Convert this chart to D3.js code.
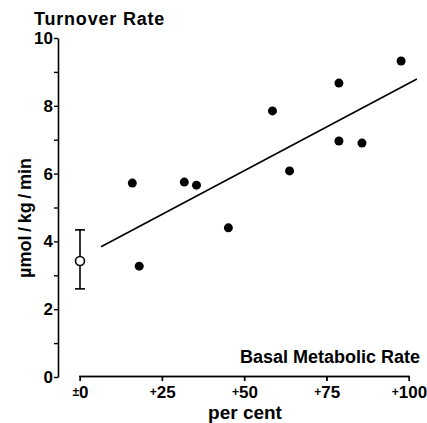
<!DOCTYPE html>
<html>
<head>
<meta charset="utf-8">
<script src="https://cdn.jsdelivr.net/npm/d3@7"></script>
<style>
  body { margin: 0; background: #fff; }
  text { font-family: "Liberation Sans", Arial, sans-serif; font-weight: bold; fill: #000; }
</style>
</head>
<body>
<svg id="chart"></svg>
<script>
// basal metabolic rate (per cent above normal) vs turnover rate
var bmr      = [15.9, 18.0, 31.7, 35.4, 45.1, 58.5, 63.7, 78.7, 78.7, 85.7, 97.6];
var turnover = [5.72, 3.27, 5.75, 5.66, 4.40, 7.85, 6.08, 8.67, 6.96, 6.90, 9.32];

// control group: mean and range
var controlX = [0];
var controlMean = [3.42];
var controlLow = [2.60];
var controlHigh = [4.34];

// regression line end points
var fitX = [6.4, 102.4];
var fitY = [3.84, 8.79];

var xTicks = [0, 25, 50, 75, 100];
var xTickSigns = ["\u00b1", "+", "+", "+", "+"];
var xTickLabels = ["0", "25", "50", "75", "100"];
var yTicks = [0, 1, 2, 3, 4, 5, 6, 7, 8, 9, 10];

var svg = d3.select("#chart")
    .attr("width", 427)
    .attr("height", 423);

var x = d3.scaleLinear().domain([0, 100]).range([80, 409]);
var y = d3.scaleLinear().domain([0, 10]).range([377, 38]);

// y axis
var yAxis = svg.append("g")
    .attr("transform", "translate(58,0)")
    .call(d3.axisLeft(y)
        .tickValues(yTicks)
        .tickSize(4)
        .tickSizeOuter(0)
        .tickFormat(function(d) { return d % 2 === 0 ? d : ""; }));
yAxis.select(".domain").attr("stroke", "#000").attr("stroke-width", 1.6);
yAxis.selectAll(".tick line").attr("stroke", "#000").attr("stroke-width", 1.4);
yAxis.selectAll(".tick text")
    .attr("x", -5)
    .style("font-size", "17px")
    .style("font-family", "\"Liberation Sans\", Arial, sans-serif")
    .style("font-weight", "bold");

// regression line
var fitLine = d3.line()
    .x(function(d) { return x(d[0]); })
    .y(function(d) { return y(d[1]); });

svg.append("path")
    .datum(d3.zip(fitX, fitY))
    .attr("fill", "none")
    .attr("stroke", "#000")
    .attr("stroke-width", 1.6)
    .attr("d", fitLine);

// patients
svg.selectAll(".pt")
    .data(d3.zip(bmr, turnover))
    .enter().append("circle")
    .attr("class", "pt")
    .attr("cx", function(d) { return x(d[0]); })
    .attr("cy", function(d) { return y(d[1]); })
    .attr("r", 4.5)
    .attr("fill", "#000");

// controls with range bar
var ctrl = d3.range(controlX.length).map(function(i) {
    return {cx: controlX[i], m: controlMean[i], lo: controlLow[i], hi: controlHigh[i]};
});

var cg = svg.selectAll(".ctrl")
    .data(ctrl)
    .enter().append("g")
    .attr("class", "ctrl")
    .attr("stroke", "#000")
    .attr("stroke-width", 1.6);

cg.append("line")
    .attr("x1", function(d) { return x(d.cx); })
    .attr("x2", function(d) { return x(d.cx); })
    .attr("y1", function(d) { return y(d.lo); })
    .attr("y2", function(d) { return y(d.hi); });

cg.selectAll(".cap")
    .data(function(d) { return [[d.cx, d.lo], [d.cx, d.hi]]; })
    .enter().append("line")
    .attr("class", "cap")
    .attr("x1", function(d) { return x(d[0]) - 5; })
    .attr("x2", function(d) { return x(d[0]) + 5; })
    .attr("y1", function(d) { return y(d[1]); })
    .attr("y2", function(d) { return y(d[1]); });

cg.append("circle")
    .attr("cx", function(d) { return x(d.cx); })
    .attr("cy", function(d) { return y(d.m); })
    .attr("r", 4.5)
    .attr("fill", "#fff");

// labels
svg.append("text")
    .attr("x", 34)
    .attr("y", 25)
    .style("font-size", "18px")
    .style("letter-spacing", "0.8px")
    .text("Turnover Rate");

svg.append("text")
    .attr("transform", "translate(31,218) rotate(-90)")
    .attr("text-anchor", "middle")
    .style("font-size", "18px")
    .text("\u00b5mol\u2009/\u2009kg\u2009/\u2009min");

svg.append("text")
    .attr("x", 420)
    .attr("y", 363)
    .attr("text-anchor", "end")
    .style("font-size", "18px")
    .text("Basal Metabolic Rate");

svg.append("text")
    .attr("x", 245)
    .attr("y", 419)
    .attr("text-anchor", "middle")
    .style("font-size", "19px")
    .text("per cent");

// x axis labels from the axis generator
var xAxis = svg.append("g")
    .attr("transform", "translate(0,376)")
    .call(d3.axisBottom(x)
        .tickValues(xTicks)
        .tickSize(5)
        .tickSizeOuter(0)
        .tickFormat(""));
var xt = xAxis.selectAll(".tick text")
    .attr("y", 22)
    .attr("dy", null)
    .style("font-size", "17px")
    .style("font-family", "\"Liberation Sans\", Arial, sans-serif")
    .style("font-weight", "bold");
xt.append("tspan")
    .style("font-size", "12px")
    .attr("dy", -2)
    .text(function(d, i) { return xTickSigns[i]; });
xt.append("tspan")
    .attr("dy", 2)
    .text(function(d, i) { return xTickLabels[i]; });

// x axis base line and ticks as filled rects
svg.append("rect")
    .attr("x", x.range()[0] - 0.8)
    .attr("y", 375.6)
    .attr("width", x.range()[1] - x.range()[0] + 1.6)
    .attr("height", 1.8)
    .attr("fill", "#000");

svg.selectAll(".xtick")
    .data(xTicks)
    .enter().append("rect")
    .attr("class", "xtick")
    .attr("x", function(d) { return x(d) - 0.7; })
    .attr("y", 376)
    .attr("width", 1.4)
    .attr("height", 5)
    .attr("fill", "#000");
</script>
</body>
</html>
